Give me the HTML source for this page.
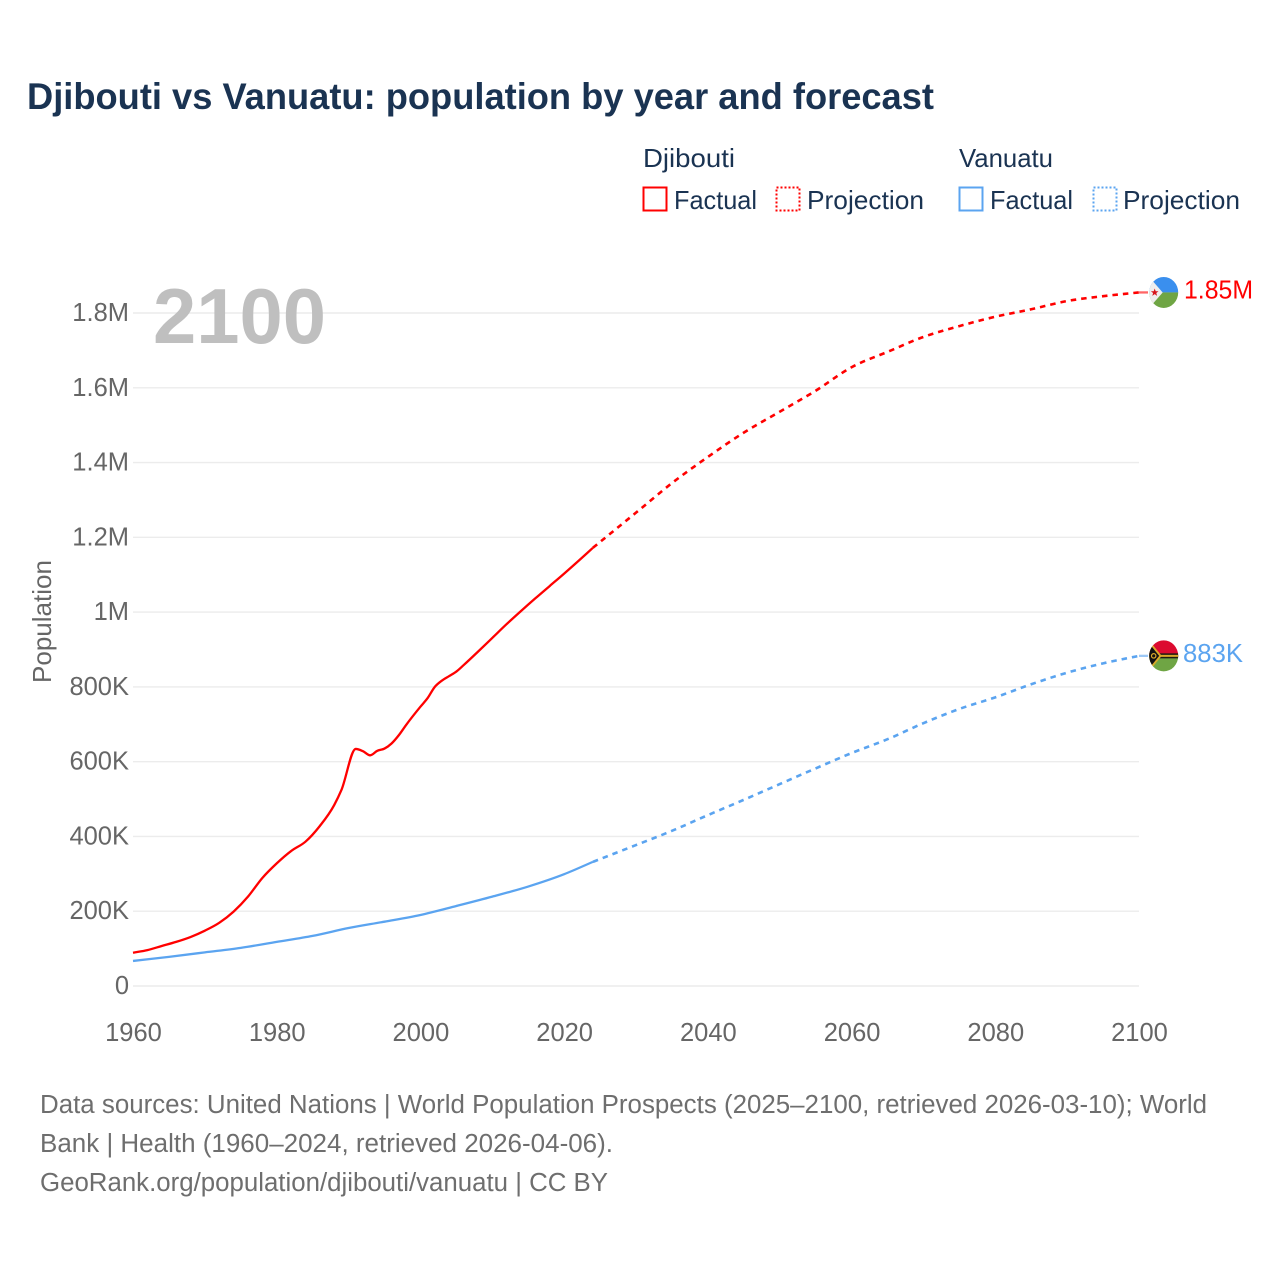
<!DOCTYPE html>
<html lang="en">
<head>
<meta charset="utf-8">
<title>Djibouti vs Vanuatu: population by year and forecast</title>
<style>
html,body{margin:0;padding:0;background:#fff;}
svg{display:block;font-family:"Liberation Sans",sans-serif;}
</style>
</head>
<body>
<svg id="chart" xmlns="http://www.w3.org/2000/svg" width="1280" height="1280" viewBox="0 0 1280 1280">
  <rect x="0" y="0" width="1280" height="1280" fill="#fff"/>
  <text x="27" y="109" font-size="37" font-weight="700" fill="#1a3352" textLength="907" lengthAdjust="spacingAndGlyphs">Djibouti vs Vanuatu: population by year and forecast</text>

  <g font-size="26" fill="#1a3352">
    <text x="643" y="167" textLength="92" lengthAdjust="spacingAndGlyphs">Djibouti</text>
    <rect x="643.5" y="187.5" width="23" height="23" fill="none" stroke="#ff0000" stroke-width="2"/>
    <text x="674" y="209" textLength="83" lengthAdjust="spacingAndGlyphs">Factual</text>
    <rect x="776.5" y="187.5" width="23" height="23" fill="none" stroke="#ff0000" stroke-width="2" stroke-dasharray="2 2"/>
    <text x="807" y="209" textLength="117" lengthAdjust="spacingAndGlyphs">Projection</text>
    <text x="959" y="167" textLength="94" lengthAdjust="spacingAndGlyphs">Vanuatu</text>
    <rect x="959.5" y="187.5" width="23" height="23" fill="none" stroke="#5ba4f0" stroke-width="2"/>
    <text x="990" y="209" textLength="83" lengthAdjust="spacingAndGlyphs">Factual</text>
    <rect x="1093.5" y="187.5" width="23" height="23" fill="none" stroke="#5ba4f0" stroke-width="2" stroke-dasharray="2 2"/>
    <text x="1123" y="209" textLength="117" lengthAdjust="spacingAndGlyphs">Projection</text>
  </g>

  <g id="grid"></g>
  <g id="yticks" font-size="25.5" fill="#666" text-anchor="end"></g>
  <g id="xticks" font-size="25.5" fill="#666" text-anchor="middle"></g>

  <text transform="translate(51 683) rotate(-90)" font-size="26" fill="#666" textLength="123" lengthAdjust="spacingAndGlyphs">Population</text>
  <text x="153" y="343" font-size="78" font-weight="700" fill="#bfbfbf" textLength="173" lengthAdjust="spacingAndGlyphs">2100</text>

  <g id="series"></g>

  <defs>
    <clipPath id="flag-clip"><ellipse cx="0" cy="0" rx="14.5" ry="15.5"/></clipPath>
  </defs>
  <g id="flag-djibouti" clip-path="url(#flag-clip)">
    <rect x="-15" y="-16" width="30" height="16" fill="#3a8fee"/>
    <rect x="-15" y="0" width="30" height="16" fill="#6fa544"/>
    <polygon points="-15,-16 -15,16 -1,0" fill="#eeeeee"/>
    <polygon points="-9,-4 -8,-1.2 -5.2,-1.2 -7.4,0.6 -6.6,3.4 -9,1.7 -11.4,3.4 -10.6,0.6 -12.8,-1.2 -10,-1.2" fill="#d7141a"/>
  </g>
  <g id="flag-vanuatu" clip-path="url(#flag-clip)">
    <rect x="-15" y="-16" width="30" height="16" fill="#dc0a30"/>
    <rect x="-15" y="0" width="30" height="16" fill="#6fa544"/>
    <rect x="-15" y="-2.5" width="30" height="5" fill="#1c1c10"/>
    <rect x="-6" y="-1" width="21" height="2" fill="#d9a92a"/>
    <polygon points="-15,-16 -2,0 -15,16" fill="#d9a92a"/>
    <polygon points="-15,-13 -4.5,0 -15,13" fill="#111"/>
    <circle cx="-10" cy="0" r="2.2" fill="none" stroke="#d9a92a" stroke-width="1.2"/>
  </g>
  <text id="label-djibouti" x="1184" y="298" font-size="25.5" fill="#ff0000" textLength="69" lengthAdjust="spacingAndGlyphs">1.85M</text>
  <text id="label-vanuatu" x="1183" y="661" font-size="25.5" fill="#5ba4f0" textLength="60" lengthAdjust="spacingAndGlyphs">883K</text>

  <g font-size="25.5" fill="#6e6e6e">
    <text x="40" y="1113" textLength="1167" lengthAdjust="spacingAndGlyphs">Data sources: United Nations | World Population Prospects (2025–2100, retrieved 2026-03-10); World</text>
    <text x="40" y="1152" textLength="573" lengthAdjust="spacingAndGlyphs">Bank | Health (1960–2024, retrieved 2026-04-06).</text>
    <text x="40" y="1191" textLength="568" lengthAdjust="spacingAndGlyphs">GeoRank.org/population/djibouti/vanuatu | CC BY</text>
  </g>
</svg>
<script>
// Chart data (population in thousands)
const xTickYears = [1960, 1980, 2000, 2020, 2040, 2060, 2080, 2100];
const yTickValues = [0, 200, 400, 600, 800, 1000, 1200, 1400, 1600, 1800];
const yTickLabels = ['0', '200K', '400K', '600K', '800K', '1M', '1.2M', '1.4M', '1.6M', '1.8M'];

const djiboutiFactualYears = [1960, 1962, 1964, 1966, 1968, 1970, 1972, 1974, 1976, 1978, 1980, 1982, 1984, 1986, 1988, 1989, 1991, 1992, 1993, 1994, 1995, 1996, 1997, 1998, 2000, 2001, 2002, 2003, 2004, 2005, 2006, 2008, 2010, 2012, 2014, 2016, 2018, 2020, 2022, 2024];
const djiboutiFactualValues = [89, 96, 107, 118, 131, 148, 169, 199, 239, 289, 328, 361, 386, 428, 484, 524, 634, 628, 617, 629, 635, 649, 671, 698, 747, 770, 800, 817, 829, 841, 858, 894, 931, 968, 1003, 1037, 1070, 1103, 1137, 1172];
const djiboutiProjectionYears = [2024, 2030, 2035, 2040, 2045, 2050, 2055, 2060, 2065, 2070, 2075, 2080, 2085, 2090, 2095, 2100];
const djiboutiProjectionValues = [1172, 1266, 1345, 1415, 1480, 1536, 1592, 1655, 1696, 1736, 1765, 1790, 1810, 1832, 1845, 1855];

const vanuatuFactualYears = [1960, 1965, 1970, 1975, 1980, 1985, 1990, 1995, 2000, 2005, 2010, 2015, 2020, 2024];
const vanuatuFactualValues = [67, 78, 90, 102, 118, 134, 155, 172, 190, 214, 239, 266, 299, 332];
const vanuatuProjectionYears = [2024, 2030, 2035, 2040, 2045, 2050, 2055, 2060, 2065, 2070, 2075, 2080, 2085, 2090, 2095, 2100];
const vanuatuProjectionValues = [332, 377, 415, 457, 498, 540, 582, 623, 660, 703, 741, 772, 807, 838, 863, 883];

const SVG_NS = 'http://www.w3.org/2000/svg';
const xAxis = function (year) { return 133 + (year - 1960) * (1139 - 133) / 140; };
const yAxis = function (value) { return 986 - value * (986 - 313) / 1800; };

const gridGroup = document.getElementById('grid');
const yTickGroup = document.getElementById('yticks');
const xTickGroup = document.getElementById('xticks');
const seriesGroup = document.getElementById('series');

yTickValues.forEach(function (value, i) {
  const line = document.createElementNS(SVG_NS, 'line');
  
  
  line.setAttribute('x1', 133);
  line.setAttribute('x2', 1139);
  line.setAttribute('y1', yAxis(value));
  line.setAttribute('y2', yAxis(value));
  line.setAttribute('stroke', '#ececec');
  line.setAttribute('stroke-width', '1.4');
  gridGroup.appendChild(line);

  const label = document.createElementNS(SVG_NS, 'text');
  
  
  label.setAttribute('x', 129);
  label.setAttribute('y', yAxis(value) + 8);
  label.textContent = yTickLabels[i];
  yTickGroup.appendChild(label);
});

xTickYears.forEach(function (year) {
  const label = document.createElementNS(SVG_NS, 'text');
  
  
  label.setAttribute('x', xAxis(year) + 0.5);
  label.setAttribute('y', 1041);
  label.textContent = year;
  xTickGroup.appendChild(label);
});

// Monotone cubic curve through the data points (no overshoot)
function curvePath(years, values) {
  const px = years.map(xAxis);
  const py = values.map(yAxis);
  const n = px.length;
  const slopes = [];
  for (let i = 0; i < n - 1; i++) {
    slopes.push((py[i + 1] - py[i]) / (px[i + 1] - px[i]));
  }
  const tangents = [];
  for (let i = 0; i < n; i++) {
    if (i === 0) {
      tangents.push(slopes[0]);
    } else if (i === n - 1) {
      tangents.push(slopes[n - 2]);
    } else if (slopes[i - 1] * slopes[i] <= 0) {
      tangents.push(0);
    } else {
      const h0 = px[i] - px[i - 1];
      const h1 = px[i + 1] - px[i];
      const p = (slopes[i - 1] * h1 + slopes[i] * h0) / (h0 + h1);
      const limit = 2 * Math.min(Math.abs(slopes[i - 1]), Math.abs(slopes[i]));
      tangents.push(Math.sign(slopes[i]) * Math.min(limit, Math.abs(p)));
    }
  }
  let d = 'M' + px[0].toFixed(2) + ' ' + py[0].toFixed(2);
  for (let i = 0; i < n - 1; i++) {
    const h = (px[i + 1] - px[i]) / 3;
    d += ' C' + (px[i] + h).toFixed(2) + ' ' + (py[i] + h * tangents[i]).toFixed(2) +
      ' ' + (px[i + 1] - h).toFixed(2) + ' ' + (py[i + 1] - h * tangents[i + 1]).toFixed(2) +
      ' ' + px[i + 1].toFixed(2) + ' ' + py[i + 1].toFixed(2);
  }
  return d;
}

function appendSeries(path, color, dashed) {
  const el = document.createElementNS(SVG_NS, 'path');
  el.setAttribute('d', path);
  el.setAttribute('fill', 'none');
  el.setAttribute('stroke', color);
  el.setAttribute('stroke-width', dashed ? '2.6' : '2.3');
  el.setAttribute('stroke-linejoin', 'round');
  if (dashed) el.setAttribute('stroke-dasharray', '5.5 5');
  seriesGroup.appendChild(el);
  return el;
}

const djiboutiFactualLine = appendSeries(curvePath(djiboutiFactualYears, djiboutiFactualValues), '#ff0000', false);



const djiboutiProjectionLine = appendSeries(curvePath(djiboutiProjectionYears, djiboutiProjectionValues), '#ff0000', true);



const vanuatuFactualLine = appendSeries(curvePath(vanuatuFactualYears, vanuatuFactualValues), '#5ba4f0', false);



const vanuatuProjectionLine = appendSeries(curvePath(vanuatuProjectionYears, vanuatuProjectionValues), '#5ba4f0', true);



const djiboutiEndY = yAxis(djiboutiProjectionValues[djiboutiProjectionValues.length - 1]);
const vanuatuEndY = yAxis(vanuatuProjectionValues[vanuatuProjectionValues.length - 1]);

const djiboutiConnector = appendSeries('M1139 ' + djiboutiEndY.toFixed(2) + ' H1148', '#ff0000', false);


djiboutiConnector.setAttribute('opacity', '0.6');

const vanuatuConnector = appendSeries('M1139 ' + vanuatuEndY.toFixed(2) + ' H1148', '#5ba4f0', false);


vanuatuConnector.setAttribute('opacity', '0.6');

document.getElementById('flag-djibouti').setAttribute('transform', 'translate(1163.7 ' + djiboutiEndY.toFixed(2) + ')');
document.getElementById('flag-vanuatu').setAttribute('transform', 'translate(1163.7 ' + vanuatuEndY.toFixed(2) + ')');
document.getElementById('label-djibouti').setAttribute('y', (djiboutiEndY + 6).toFixed(2));
document.getElementById('label-vanuatu').setAttribute('y', (vanuatuEndY + 6).toFixed(2));
</script>
</body>
</html>
